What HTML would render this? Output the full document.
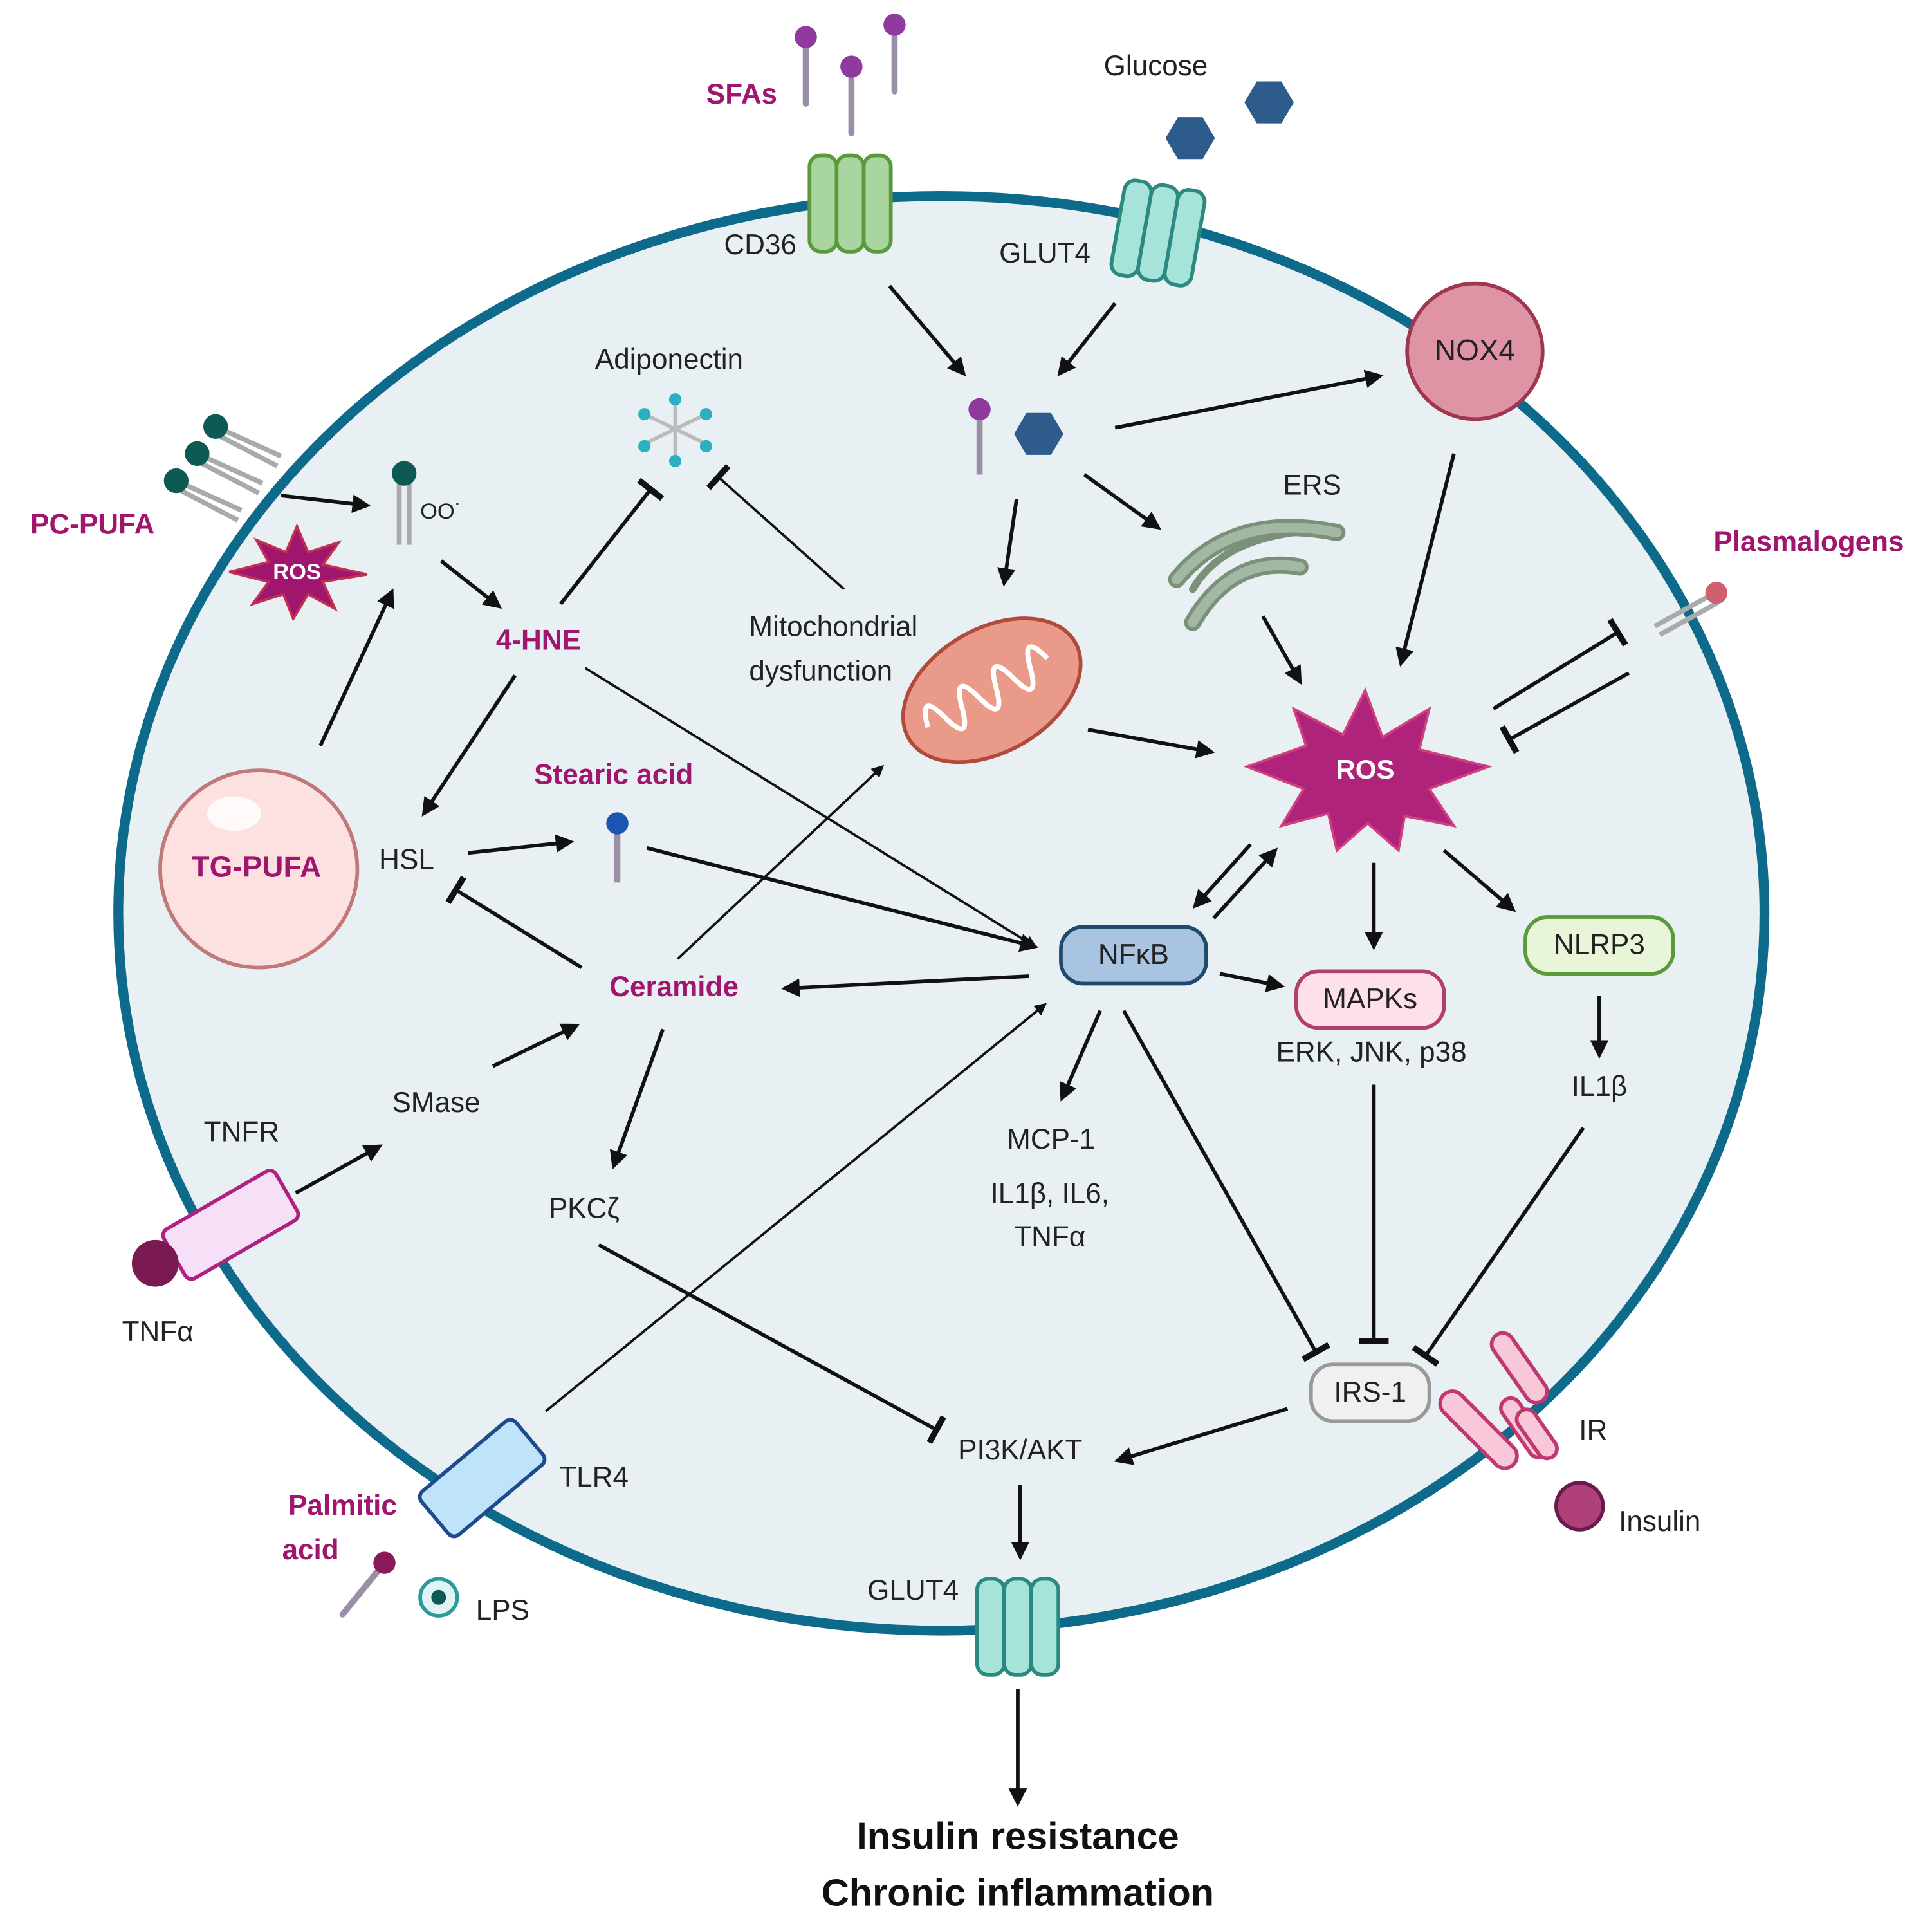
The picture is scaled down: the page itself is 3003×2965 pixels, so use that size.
<!DOCTYPE html>
<html><head><meta charset="utf-8"><style>
html,body{margin:0;padding:0;background:#fff}
svg{display:block}
text{font-family:"Liberation Sans",sans-serif;font-size:23px;fill:#222;text-anchor:middle;dominant-baseline:middle}
.m{fill:#a0156e;font-weight:bold}
</style></head><body>
<svg width="3003" height="2965" viewBox="0 0 1568 1548" xmlns="http://www.w3.org/2000/svg">
<defs>
<marker id="a" viewBox="0 0 10 10" refX="8" refY="5" markerWidth="5" markerHeight="5" orient="auto"><path d="M0,0L10,5L0,10z" fill="#111"/></marker>
<marker id="t" viewBox="0 0 5 24" refX="2.5" refY="12" markerWidth="5" markerHeight="24" orient="auto" markerUnits="userSpaceOnUse"><rect x="0" y="0" width="5" height="24" fill="#111"/></marker>
</defs>
<ellipse cx="764" cy="741" rx="668" ry="582" fill="#e8f0f4" stroke="#0e6a8a" stroke-width="8"/>

<!-- SFAs -->
<g stroke="#9a8fa6" stroke-width="5" stroke-linecap="round"><line x1="654" y1="30" x2="654" y2="84"/><line x1="691" y1="54" x2="691" y2="108"/><line x1="726" y1="20" x2="726" y2="74"/></g>
<g fill="#8e3a9e"><circle cx="654" cy="30" r="9"/><circle cx="691" cy="54" r="9"/><circle cx="726" cy="20" r="9"/></g>
<text x="602" y="78" class="m">SFAs</text>
<text x="938" y="55">Glucose</text>
<g fill="#2d5b8c"><polygon points="946,112 956,95 976,95 986,112 976,129 956,129"/><polygon points="1010,83 1020,66 1040,66 1050,83 1040,100 1020,100"/></g>

<!-- CD36 -->
<g fill="#a8d5a0" stroke="#5a9a3a" stroke-width="3"><rect x="657" y="126" width="22" height="78" rx="9"/><rect x="679" y="126" width="22" height="78" rx="9"/><rect x="701" y="126" width="22" height="78" rx="9"/></g>
<text x="617" y="200">CD36</text>
<!-- GLUT4 top -->
<g transform="rotate(10 940 188)" fill="#a6e3d9" stroke="#2a8a80" stroke-width="3"><rect x="907" y="150" width="22" height="78" rx="9"/><rect x="929" y="150" width="22" height="78" rx="9"/><rect x="951" y="150" width="22" height="78" rx="9"/></g>
<text x="848" y="207">GLUT4</text>

<circle cx="1197" cy="285" r="55" fill="#de94a4" stroke="#a03650" stroke-width="3"/>
<text x="1197" y="286" style="font-size:24px">NOX4</text>

<g stroke="#111" stroke-width="3" fill="none" marker-end="url(#a)">
<line x1="722" y1="232" x2="782" y2="303"/>
<line x1="905" y1="246" x2="860" y2="303"/>
<line x1="905" y1="347" x2="1120" y2="305"/>
<line x1="1180" y1="368" x2="1137" y2="538"/>
<line x1="880" y1="385" x2="940" y2="428"/>
<line x1="825" y1="405" x2="815" y2="473"/>
<line x1="228" y1="402" x2="298" y2="410"/>
<line x1="358" y1="455" x2="405" y2="492"/>
<line x1="260" y1="605" x2="318" y2="480"/>
<line x1="418" y1="548" x2="344" y2="660"/>
<line x1="380" y1="692" x2="463" y2="683"/>
<line x1="525" y1="688" x2="840" y2="768"/>
<line x1="835" y1="792" x2="637" y2="802"/>
<line x1="550" y1="778" x2="716" y2="622" stroke-width="2"/>
<line x1="538" y1="835" x2="498" y2="946"/>
<line x1="400" y1="865" x2="468" y2="832"/>
<line x1="240" y1="968" x2="308" y2="930"/>
<line x1="443" y1="1145" x2="848" y2="815" stroke-width="2"/>
<line x1="883" y1="592" x2="983" y2="610"/>
<line x1="1025" y1="500" x2="1055" y2="553"/>
<line x1="1015" y1="685" x2="970" y2="735"/>
<line x1="985" y1="745" x2="1035" y2="690"/>
<line x1="1115" y1="700" x2="1115" y2="768"/>
<line x1="1172" y1="690" x2="1228" y2="738"/>
<line x1="1298" y1="808" x2="1298" y2="856"/>
<line x1="990" y1="790" x2="1040" y2="800"/>
<line x1="893" y1="820" x2="862" y2="891"/>
<line x1="1045" y1="1143" x2="907" y2="1185"/>
<line x1="828" y1="1205" x2="828" y2="1263"/>
<line x1="826" y1="1370" x2="826" y2="1463"/>
</g>
<line x1="475" y1="542" x2="840" y2="768" stroke="#111" stroke-width="2" marker-end="url(#a)"/>

<!-- inhibitions -->
<g stroke="#111" stroke-width="3" fill="none" marker-end="url(#t)">
<line x1="455" y1="490" x2="528" y2="397"/>
<line x1="685" y1="478" x2="583" y2="387" stroke-width="2"/>
<line x1="472" y1="785" x2="370" y2="722"/>
<line x1="486" y1="1010" x2="760" y2="1160"/>
<line x1="912" y1="820" x2="1068" y2="1097"/>
<line x1="1115" y1="880" x2="1115" y2="1088"/>
<line x1="1285" y1="915" x2="1157" y2="1100"/>
<line x1="1212" y1="575" x2="1313" y2="513"/>
<line x1="1322" y1="546" x2="1225" y2="600"/>
</g>

<!-- glucose/SFA inside -->
<line x1="795" y1="332" x2="795" y2="385" stroke="#9a8fa6" stroke-width="5"/><circle cx="795" cy="332" r="9" fill="#8e3a9e"/>
<polygon points="823,352 833,335 853,335 863,352 853,369 833,369" fill="#2d5b8c"/>

<!-- adiponectin -->
<text x="543" y="293">Adiponectin</text>
<g stroke="#bbb" stroke-width="3"><line x1="548" y1="326" x2="548" y2="370"/><line x1="525" y1="337" x2="571" y2="359"/><line x1="525" y1="359" x2="571" y2="337"/></g>
<g fill="#2ab0c0"><circle cx="548" cy="324" r="5"/><circle cx="548" cy="374" r="5"/><circle cx="523" cy="336" r="5"/><circle cx="573" cy="336" r="5"/><circle cx="523" cy="362" r="5"/><circle cx="573" cy="362" r="5"/></g>

<!-- PC-PUFA -->
<text x="75" y="427" class="m">PC-PUFA</text>
<g stroke="#aaa" stroke-width="4"><line x1="175" y1="346" x2="228" y2="370"/><line x1="175" y1="352" x2="225" y2="378"/><line x1="160" y1="368" x2="213" y2="392"/><line x1="160" y1="374" x2="210" y2="400"/><line x1="143" y1="390" x2="196" y2="414"/><line x1="143" y1="396" x2="193" y2="422"/></g>
<g fill="#0d5a55"><circle cx="175" cy="346" r="10"/><circle cx="160" cy="368" r="10"/><circle cx="143" cy="390" r="10"/></g>
<polygon points="241,427 250,448 275,440 262,458 298,466 262,472 272,494 250,482 238,502 230,482 205,490 218,472 186,464 218,456 208,438 232,448" fill="#a0156e" stroke="#c03050" stroke-width="2"/>
<text x="241" y="465" style="font-size:18px;font-weight:bold;fill:#fff">ROS</text>
<g stroke="#aaa" stroke-width="4"><line x1="324" y1="388" x2="324" y2="442"/><line x1="332" y1="388" x2="332" y2="442"/></g>
<circle cx="328" cy="384" r="10" fill="#0d5a55"/>
<text x="358" y="416" style="font-size:18px">OO˙</text>
<text x="437" y="521" class="m">4-HNE</text>
<text x="608" y="510" style="text-anchor:start">Mitochondrial</text>
<text x="608" y="546" style="text-anchor:start">dysfunction</text>

<!-- TG-PUFA -->
<circle cx="210" cy="705" r="80" fill="#fde0e0" stroke="#c07878" stroke-width="3"/>
<ellipse cx="190" cy="660" rx="22" ry="14" fill="#fff" opacity="0.8"/>
<text x="208" y="705" class="m" style="font-size:24px">TG-PUFA</text>
<text x="330" y="699">HSL</text>
<text x="498" y="630" class="m">Stearic acid</text>
<line x1="501" y1="668" x2="501" y2="716" stroke="#9a8fa6" stroke-width="5"/><circle cx="501" cy="668" r="9" fill="#1a56b0"/>
<text x="547" y="802" class="m">Ceramide</text>
<text x="354" y="896">SMase</text>
<text x="196" y="920">TNFR</text>
<g transform="rotate(-30 185 995)"><rect x="135" y="972" width="105" height="46" rx="6" fill="#f6e0f8" stroke="#b02080" stroke-width="3"/></g>
<circle cx="126" cy="1025" r="19" fill="#7a1a50"/>
<text x="128" y="1082">TNFα</text>
<text x="474" y="982">PKCζ</text>

<!-- TLR4 -->
<g transform="rotate(-40 392 1200)"><rect x="342" y="1176" width="100" height="46" rx="6" fill="#bfe4fa" stroke="#1e4a8e" stroke-width="3"/></g>
<text x="482" y="1200">TLR4</text>
<text x="278" y="1223" class="m">Palmitic</text>
<text x="252" y="1259" class="m">acid</text>
<line x1="312" y1="1268" x2="278" y2="1310" stroke="#9a8fa6" stroke-width="5" stroke-linecap="round"/><circle cx="312" cy="1268" r="9" fill="#8a1a5a"/>
<circle cx="356" cy="1296" r="15" fill="#e0f4f4" stroke="#2a9a9a" stroke-width="3"/><circle cx="356" cy="1296" r="6" fill="#0d5a55"/>
<text x="408" y="1308">LPS</text>

<!-- mitochondrion -->
<g transform="rotate(-30 805 560)"><ellipse cx="805" cy="560" rx="78" ry="50" fill="#e99a88" stroke="#b04a3a" stroke-width="3"/>
<path d="M745,560 q8,-30 16,0 q8,30 16,0 q8,-30 16,0 q8,30 16,0 q8,-30 16,0 q8,30 16,0 q8,-30 16,0" fill="none" stroke="#fff" stroke-width="4"/></g>
<!-- ERS -->
<text x="1065" y="395">ERS</text>
<g fill="none" stroke="#7a907a" stroke-width="14" stroke-linecap="round"><path d="M1085,432 Q1000,415 955,470"/><path d="M1055,460 Q1000,450 968,505"/><path d="M1050,432 Q990,440 968,478" stroke-width="6"/></g>
<g fill="none" stroke="#a3b8a3" stroke-width="8" stroke-linecap="round"><path d="M1085,432 Q1000,415 955,470"/><path d="M1055,460 Q1000,450 968,505"/></g>

<!-- big ROS -->
<polygon points="1108,560 1122,598 1160,575 1152,608 1208,622 1160,640 1180,670 1140,662 1135,690 1110,668 1085,690 1078,660 1040,670 1058,640 1012,622 1060,605 1050,575 1090,596" fill="#b0237a" stroke="#d04080" stroke-width="2"/>
<text x="1108" y="626" style="font-size:22px;font-weight:bold;fill:#fff">ROS</text>

<text x="1468" y="441" class="m">Plasmalogens</text>
<g stroke="#aaa" stroke-width="4"><line x1="1390" y1="482" x2="1343" y2="508"/><line x1="1394" y1="489" x2="1347" y2="515"/></g>
<circle cx="1393" cy="481" r="9" fill="#d06070"/>

<!-- NFkB -->
<rect x="861" y="752" width="118" height="46" rx="18" fill="#a8c4e0" stroke="#1e4a6e" stroke-width="3"/>
<text x="920" y="776">NFκB</text>
<rect x="1052" y="788" width="120" height="46" rx="18" fill="#fde0ea" stroke="#b0406a" stroke-width="3"/>
<text x="1112" y="812">MAPKs</text>
<text x="1113" y="855">ERK, JNK, p38</text>
<rect x="1238" y="744" width="120" height="46" rx="18" fill="#e8f5d8" stroke="#5a9a3a" stroke-width="3"/>
<text x="1298" y="768">NLRP3</text>
<text x="1298" y="883">IL1β</text>
<text x="853" y="926">MCP-1</text>
<text x="852" y="970">IL1β, IL6,</text>
<text x="852" y="1005">TNFα</text>

<!-- IRS-1 & IR -->
<rect x="1064" y="1107" width="96" height="46" rx="18" fill="#f0f0f0" stroke="#999" stroke-width="3"/>
<text x="1112" y="1131">IRS-1</text>
<g fill="#f8c8d8" stroke="#c03870" stroke-width="3"><rect x="1160" y="1150" width="80" height="20" rx="10" transform="rotate(45 1200 1160)"/><rect x="1200" y="1100" width="65" height="18" rx="9" transform="rotate(55 1232 1110)"/><rect x="1210" y="1150" width="55" height="16" rx="8" transform="rotate(55 1237 1158)"/><rect x="1225" y="1155" width="45" height="16" rx="8" transform="rotate(55 1247 1163)"/></g>
<text x="1293" y="1162">IR</text>
<circle cx="1282" cy="1222" r="19" fill="#b0407a" stroke="#6a1a4a" stroke-width="3"/>
<text x="1347" y="1236">Insulin</text>

<text x="828" y="1178">PI3K/AKT</text>
<g fill="#a6e3d9" stroke="#2a8a80" stroke-width="3"><rect x="793" y="1281" width="22" height="78" rx="9"/><rect x="815" y="1281" width="22" height="78" rx="9"/><rect x="837" y="1281" width="22" height="78" rx="9"/></g>
<text x="741" y="1292">GLUT4</text>
<text x="826" y="1492" style="font-size:31px;font-weight:bold;fill:#111">Insulin resistance</text>
<text x="826" y="1538" style="font-size:31px;font-weight:bold;fill:#111">Chronic inflammation</text>
</svg>
</body></html>
